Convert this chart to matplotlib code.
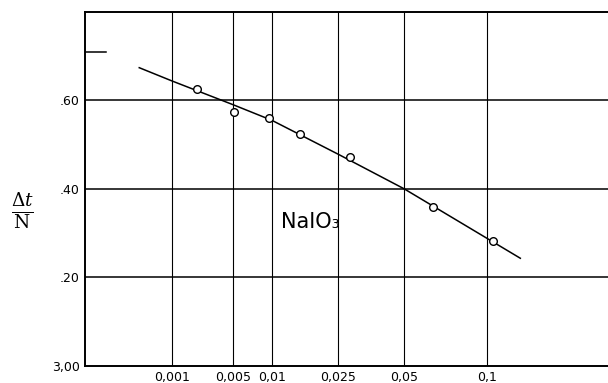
import numpy as np
import matplotlib.pyplot as plt

# measured points: concentration (N) and delta t / N
conc = [0.00216, 0.00511, 0.00953, 0.0153, 0.0286, 0.0647, 0.1047]
dt_n = [0.625, 0.573, 0.560, 0.525, 0.473, 0.360, 0.281]

# hand-drawn curve
curve_c = [0.00024, 0.001, 0.005, 0.01, 0.025, 0.05, 0.1, 0.127]
curve_y = [0.674, 0.644, 0.590, 0.555, 0.478, 0.400, 0.288, 0.243]

xticks = [0.001, 0.005, 0.01, 0.025, 0.05, 0.1]
xlabels = ['0,001', '0,005', '0,01', '0,025', '0,05', '0,1']
yticks = [0.0, 0.2, 0.4, 0.6]
ylabels = ['3,00', '.20', '.40', '.60']

plt.rcParams['mathtext.fontset'] = 'dejavuserif'

fig = plt.figure(figsize=(6.08, 3.83), dpi=100)
ax = fig.add_axes([0.1406, 0.0452, 0.8594, 0.9235])

# cube-root concentration axis
ax.set_xscale('function', functions=(np.cbrt, lambda v: v ** 3))
ax.set_xlim(0, 0.604 ** 3)
ax.set_ylim(0, 0.80)

ax.set_xticks(xticks)
ax.set_xticklabels(xlabels, fontsize=9)
ax.set_yticks(yticks)
ax.set_yticklabels(ylabels, fontsize=9)
ax.xaxis.set_minor_locator(plt.NullLocator())
ax.tick_params(length=0, pad=4)

for c in xticks:
    ax.axvline(c, color='black', lw=0.8)
for y in yticks[1:]:
    ax.axhline(y, color='black', lw=1.1)
ax.plot([0, 0.04], [0.71, 0.71], color='black', lw=1.1, transform=ax.get_yaxis_transform())

for s in ['left', 'bottom', 'top']:
    ax.spines[s].set_linewidth(1.4)
ax.spines['right'].set_visible(False)

ax.plot(curve_c, curve_y, color='black', lw=1.1, zorder=3)
ax.plot(conc, dt_n, 'o', ms=5.5, mfc='white', mec='black', mew=1.0, zorder=4)

fig.text(310 / 608, 1 - 222 / 383, 'NaIO\u2083', fontsize=15, ha='center', va='center')
ax.set_ylabel(r'$\frac{\Delta t}{\mathrm{N}}$', fontsize=19, rotation=0, labelpad=0)
ax.yaxis.set_label_coords(22 / 608, 1 - 232 / 383, transform=fig.transFigure)

fig.savefig('out.png', dpi=100)
